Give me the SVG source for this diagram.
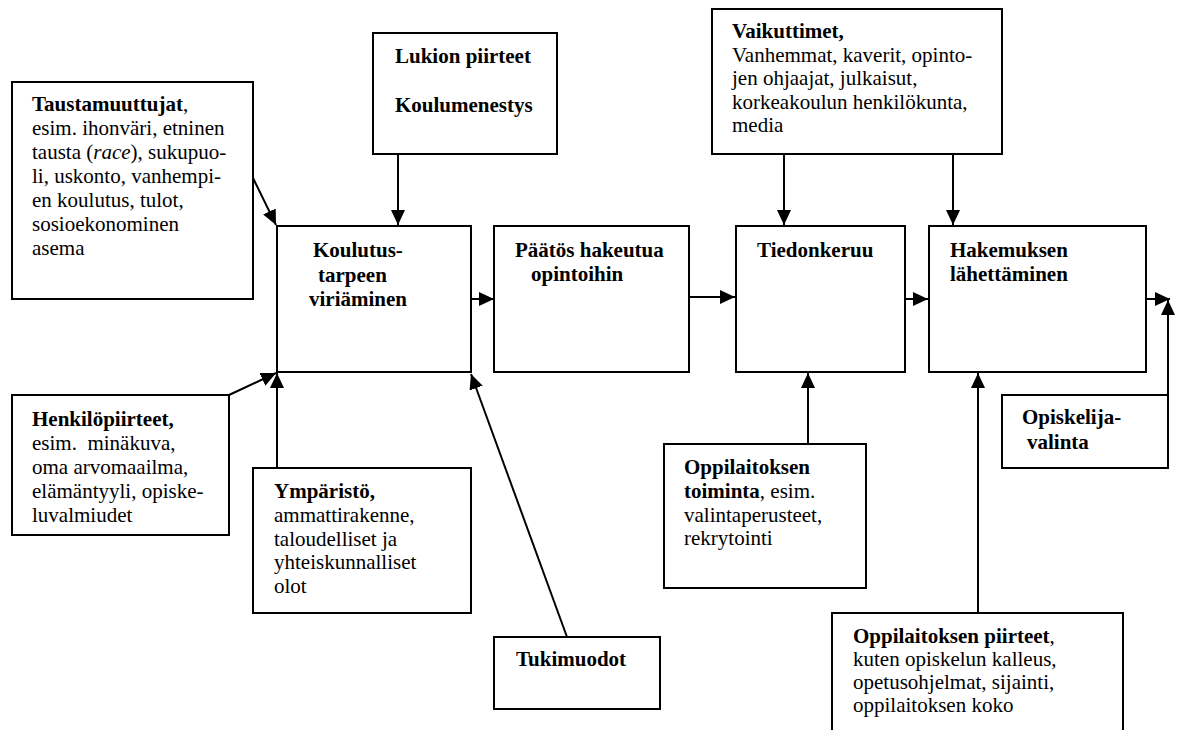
<svg xmlns="http://www.w3.org/2000/svg" width="1177" height="730" viewBox="0 0 1177 730">
  <style>
    .box { fill: #ffffff; stroke: #000000; stroke-width: 2; }
    .conn { fill: none; stroke: #000000; stroke-width: 2; }
    text { font-family: "Liberation Serif", "Times New Roman", serif; font-size: 21px; fill: #000000; }
    .b { font-weight: bold; }
    .i { font-style: italic; }
  </style>
  <defs>
    <marker id="arrow" markerUnits="userSpaceOnUse" markerWidth="16" markerHeight="14" refX="15" refY="7" orient="auto">
      <path d="M0,0 L15,7 L0,14 z" fill="#000000"/>
    </marker>
  </defs>
  <rect width="1177" height="730" fill="#ffffff"/>

  <!-- connectors -->
  <g id="connectors">
    <line class="conn" x1="253" y1="178" x2="276" y2="225" marker-end="url(#arrow)"/>
    <line class="conn" x1="398" y1="154" x2="398" y2="225" marker-end="url(#arrow)"/>
    <line class="conn" x1="229" y1="395" x2="276" y2="373" marker-end="url(#arrow)"/>
    <line class="conn" x1="277" y1="468" x2="277" y2="373" marker-end="url(#arrow)"/>
    <line class="conn" x1="567" y1="637" x2="471" y2="374" marker-end="url(#arrow)"/>
    <line class="conn" x1="471" y1="299" x2="494" y2="299" marker-end="url(#arrow)"/>
    <line class="conn" x1="687" y1="297" x2="735" y2="297" marker-end="url(#arrow)"/>
    <line class="conn" x1="784" y1="154" x2="784" y2="225" marker-end="url(#arrow)"/>
    <line class="conn" x1="953" y1="154" x2="953" y2="225" marker-end="url(#arrow)"/>
    <line class="conn" x1="905" y1="299" x2="928" y2="299" marker-end="url(#arrow)"/>
    <line class="conn" x1="808" y1="444" x2="808" y2="373" marker-end="url(#arrow)"/>
    <line class="conn" x1="978" y1="613" x2="978" y2="373" marker-end="url(#arrow)"/>
    <line class="conn" x1="1146" y1="299" x2="1170" y2="299" marker-end="url(#arrow)"/>
    <line class="conn" x1="1168" y1="395" x2="1168" y2="300" marker-end="url(#arrow)"/>
  </g>

  <g id="taustamuuttujat">
    <rect class="box" x="12" y="82" width="241" height="217"/>
    <text x="32" y="111"><tspan class="b">Taustamuuttujat</tspan>,</text>
    <text x="32" y="135">esim. ihonväri, etninen</text>
    <text x="32" y="159">tausta (<tspan class="i">race</tspan>), sukupuo-</text>
    <text x="32" y="183">li, uskonto, vanhempi-</text>
    <text x="32" y="207">en koulutus, tulot,</text>
    <text x="32" y="231">sosioekonominen</text>
    <text x="32" y="255">asema</text>
  </g>

  <g id="lukion-piirteet">
    <rect class="box" x="373" y="33" width="184" height="121"/>
    <text class="b" x="395" y="63">Lukion piirteet</text>
    <text class="b" x="395" y="112">Koulumenestys</text>
  </g>

  <g id="vaikuttimet">
    <rect class="box" x="712" y="9" width="290" height="145"/>
    <text class="b" x="732" y="38">Vaikuttimet,</text>
    <text x="732" y="62">Vanhemmat, kaverit, opinto-</text>
    <text x="732" y="85">jen ohjaajat, julkaisut,</text>
    <text x="732" y="109">korkeakoulun henkilökunta,</text>
    <text x="732" y="132">media</text>
  </g>

  <g id="koulutustarpeen-viriaminen">
    <rect class="box" x="277" y="226" width="194" height="146"/>
    <text class="b" x="313" y="257">Koulutus-</text>
    <text class="b" x="318" y="282">tarpeen</text>
    <text class="b" x="309" y="306">viriäminen</text>
  </g>

  <g id="paatos-hakeutua">
    <rect class="box" x="494" y="226" width="195" height="146"/>
    <text class="b" x="515" y="257">Päätös hakeutua</text>
    <text class="b" x="531" y="281">opintoihin</text>
  </g>

  <g id="tiedonkeruu">
    <rect class="box" x="736" y="226" width="169" height="146"/>
    <text class="b" x="757" y="257">Tiedonkeruu</text>
  </g>

  <g id="hakemuksen-lahettaminen">
    <rect class="box" x="929" y="226" width="217" height="146"/>
    <text class="b" x="950" y="257">Hakemuksen</text>
    <text class="b" x="950" y="281">lähettäminen</text>
  </g>

  <g id="henkilopiirteet">
    <rect class="box" x="12" y="395" width="217" height="140"/>
    <text class="b" x="32" y="426">Henkilöpiirteet,</text>
    <text x="32" y="450">esim.&#160; minäkuva,</text>
    <text x="32" y="474">oma arvomaailma,</text>
    <text x="32" y="498">elämäntyyli, opiske-</text>
    <text x="32" y="522">luvalmiudet</text>
  </g>

  <g id="ymparisto">
    <rect class="box" x="253" y="468" width="218" height="145"/>
    <text class="b" x="274" y="498">Ympäristö,</text>
    <text x="274" y="522">ammattirakenne,</text>
    <text x="274" y="546">taloudelliset ja</text>
    <text x="274" y="569">yhteiskunnalliset</text>
    <text x="274" y="593">olot</text>
  </g>

  <g id="tukimuodot">
    <rect class="box" x="494" y="637" width="166" height="72"/>
    <text class="b" x="516" y="666">Tukimuodot</text>
  </g>

  <g id="oppilaitoksen-toiminta">
    <rect class="box" x="664" y="444" width="202" height="144"/>
    <text class="b" x="684" y="474">Oppilaitoksen</text>
    <text x="684" y="498"><tspan class="b">toiminta</tspan>, esim.</text>
    <text x="684" y="522">valintaperusteet,</text>
    <text x="684" y="545">rekrytointi</text>
  </g>

  <g id="oppilaitoksen-piirteet">
    <rect class="box" x="832" y="613" width="291" height="130"/>
    <text x="853" y="643"><tspan class="b">Oppilaitoksen piirteet</tspan>,</text>
    <text x="853" y="666">kuten opiskelun kalleus,</text>
    <text x="853" y="689">opetusohjelmat, sijainti,</text>
    <text x="853" y="712">oppilaitoksen koko</text>
  </g>

  <g id="opiskelijavalinta">
    <rect class="box" x="1002" y="395" width="166" height="73"/>
    <text class="b" x="1022" y="424">Opiskelija-</text>
    <text class="b" x="1027" y="449">valinta</text>
  </g>
</svg>
